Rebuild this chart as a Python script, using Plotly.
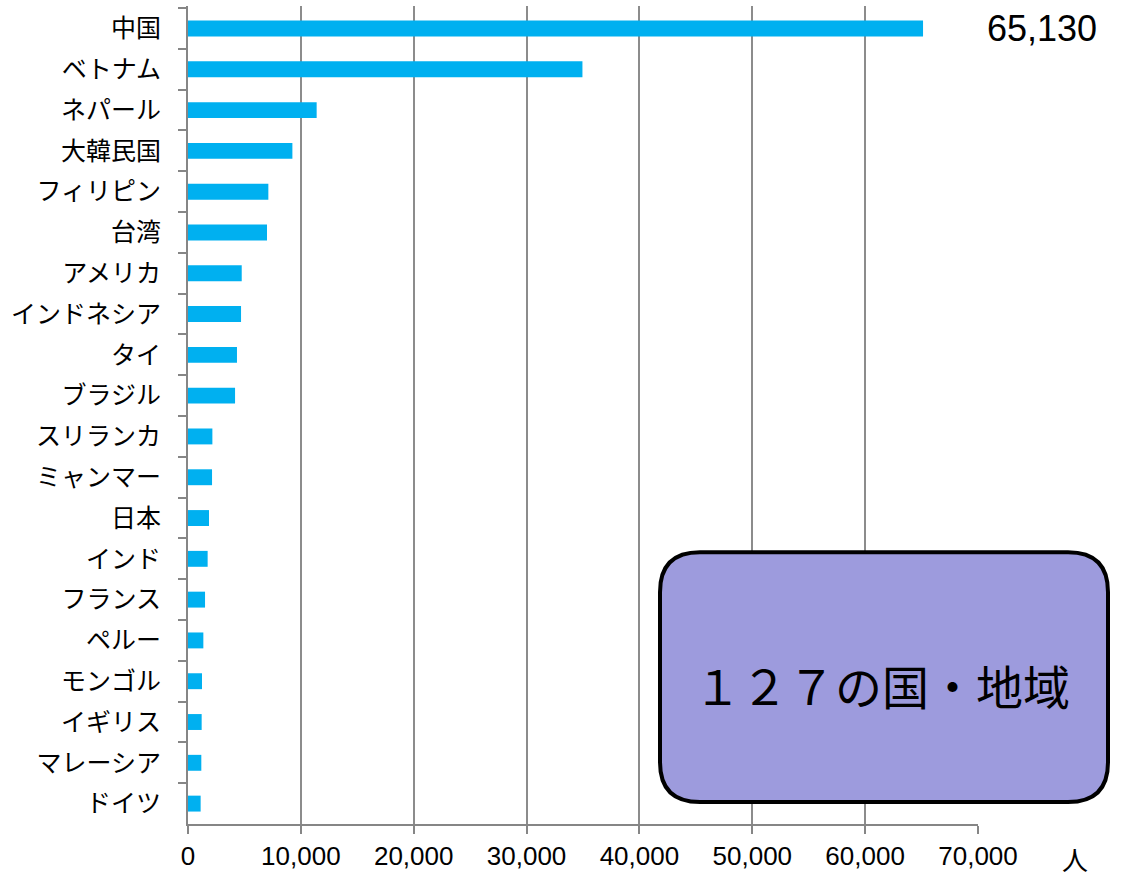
import plotly.graph_objects as go

countries = ["中国", "ベトナム", "ネパール", "大韓民国", "フィリピン", "台湾", "アメリカ",
             "インドネシア", "タイ", "ブラジル", "スリランカ", "ミャンマー", "日本", "インド",
             "フランス", "ペルー", "モンゴル", "イギリス", "マレーシア", "ドイツ"]
values = [65130, 34950, 11400, 9250, 7120, 7000, 4760, 4700, 4340, 4170,
          2160, 2130, 1860, 1740, 1510, 1360, 1240, 1210, 1180, 1120]
x_ticks = [0, 10000, 20000, 30000, 40000, 50000, 60000, 70000]
unit_label = "人"
box_text = "１２７の国・地域"

W, H = 1121, 877
L, R, T, B = 188, 143, 6, 49
PW, PH = W - L - R, H - T - B

def px(xp):
    return (xp - L) / PW

def py(yp):
    return 1 - (yp - T) / PH

FONT = "Liberation Sans, Arial, Noto Sans CJK JP"
JFONT = "Noto Sans CJK JP, Liberation Sans"

fig = go.Figure(go.Bar(
    x=values, y=countries, orientation="h",
    marker=dict(color="#00B0F0", line=dict(width=0)),
))

# rounded box (pixel geometry converted to paper coords)
bx0, bx1, by0, by1, r = 660, 1108, 555, 806, 40
rx, ry = r / PW, r / PH
X0, X1, Y0, Y1 = px(bx0), px(bx1), py(by1), py(by0)
path = (f"M {X0+rx},{Y1} L {X1-rx},{Y1} Q {X1},{Y1} {X1},{Y1-ry} "
        f"L {X1},{Y0+ry} Q {X1},{Y0} {X1-rx},{Y0} "
        f"L {X0+rx},{Y0} Q {X0},{Y0} {X0},{Y0+ry} "
        f"L {X0},{Y1-ry} Q {X0},{Y1} {X0+rx},{Y1} Z")

fig.update_layout(
    width=W, height=H,
    margin=dict(l=L, r=R, t=T, b=B),
    plot_bgcolor="white", paper_bgcolor="white",
    bargap=0.61,
    showlegend=False,
    font=dict(family=FONT, color="black"),
    xaxis=dict(
        range=[0, 70000], tickvals=x_ticks, tickformat=",",
        showgrid=True, gridcolor="#8c8c8c", gridwidth=1.5,
        showline=True, linecolor="#868686", linewidth=2,
        ticks="outside", ticklen=8, tickcolor="#868686", tickwidth=1.5,
        tickfont=dict(size=26, family=FONT, color="black"),
        zeroline=False, fixedrange=True,
    ),
    yaxis=dict(
        autorange="reversed", type="category",
        showline=True, linecolor="#868686", linewidth=2,
        ticks="outside", ticklen=8, tickcolor="#868686", tickwidth=2,
        tickson="boundaries",
        tickfont=dict(size=25, family=JFONT, color="black"),
        ticklabelstandoff=20,
        showgrid=False, zeroline=False, fixedrange=True,
    ),
    shapes=[dict(type="path", xref="paper", yref="paper", path=path,
                 fillcolor="#9D9BDD", line=dict(color="black", width=4), layer="above")],
    annotations=[
        dict(text=f"{values[0]:,}", xref="paper", yref="y", x=px(985), y=countries[0],
             xanchor="left", yanchor="middle", showarrow=False,
             font=dict(size=36, family=FONT, color="black")),
        dict(text=unit_label, xref="paper", yref="paper", x=px(1075), y=py(863),
             xanchor="center", yanchor="middle", showarrow=False,
             font=dict(size=26, family=JFONT, color="black")),
        dict(text=box_text, xref="paper", yref="paper", x=px(882), y=py(688),
             xanchor="center", yanchor="middle", showarrow=False,
             font=dict(size=47, family=JFONT, color="black")),
    ],
)

fig.write_html("out.html", config={"displayModeBar": False},
               post_script="document.body.style.margin='0px';")
